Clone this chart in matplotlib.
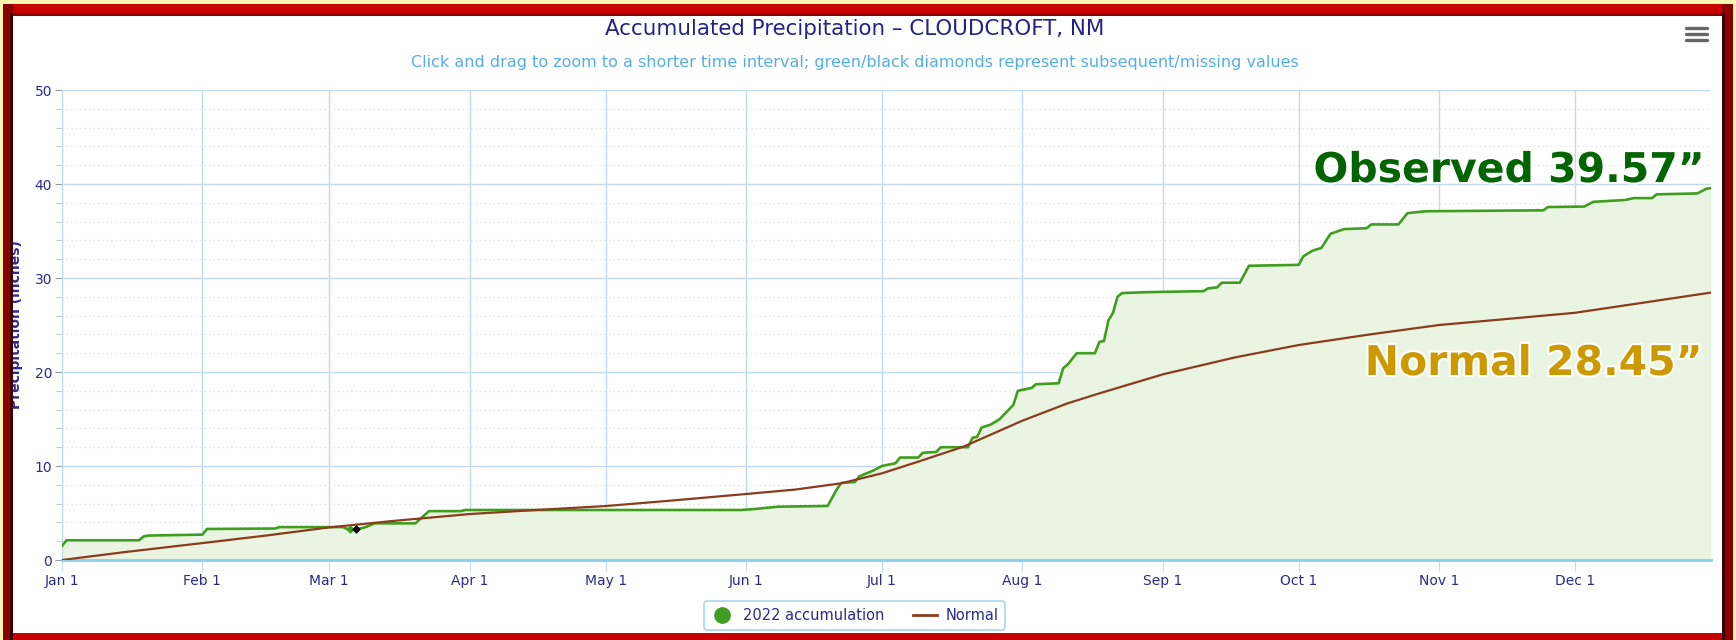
import numpy as np
import pandas as pd
import matplotlib
matplotlib.use("Agg")
import matplotlib.pyplot as plt
import matplotlib.patheffects as pe
from matplotlib.patches import Rectangle
from matplotlib.lines import Line2D

# ---------- DATA ----------

# 2022 accumulation: day of year (0 = Jan 1) and inches
obs_day = [0, 1, 17, 18, 19, 31, 32, 47, 48, 62, 63, 65, 67, 69, 78, 81, 88, 89,
           150, 153, 158, 169, 171, 172, 175, 176, 178, 179, 181, 184, 185, 189,
           190, 193, 194, 200, 201, 202, 203, 205, 207, 208, 210, 211, 214, 215,
           220, 221, 222, 224, 228, 229, 230, 231, 232, 233, 234, 240, 252, 253,
           255, 256, 260, 262, 273, 274, 276, 278, 280, 283, 288, 289, 295, 297,
           301, 327, 328, 336, 338, 345, 347, 351, 352, 361, 363, 364]
obs_inches = [1.5, 2.1, 2.1, 2.5, 2.6, 2.7, 3.3, 3.35, 3.5, 3.5, 3.3, 3.25, 3.5, 3.9, 3.9, 5.2, 5.2, 5.32,
              5.32, 5.43, 5.67, 5.75, 7.5, 8.2, 8.3, 8.9, 9.3, 9.5, 10.0, 10.3, 10.9, 10.9,
              11.4, 11.5, 12.0, 12.0, 13.0, 13.1, 14.1, 14.4, 15.0, 15.5, 16.5, 18.0, 18.3, 18.7,
              18.8, 20.4, 20.8, 22.0, 22.0, 23.2, 23.3, 25.5, 26.3, 28.0, 28.4, 28.5, 28.6, 28.9,
              29.0, 29.5, 29.5, 31.3, 31.4, 32.3, 32.9, 33.2, 34.7, 35.2, 35.3, 35.7, 35.7, 36.9,
              37.1, 37.2, 37.55, 37.6, 38.1, 38.3, 38.5, 38.5, 38.9, 39.0, 39.5, 39.57]

# normal accumulation
normal_day = [0, 14, 31, 45, 59, 73, 90, 104, 120, 134, 151, 162, 172, 181, 189, 199,
              212, 222, 229, 243, 259, 273, 288, 304, 318, 334, 348, 364]
normal_inches = [0.0, 0.85, 1.8, 2.6, 3.47, 4.15, 4.89, 5.3, 5.74, 6.3, 7.02, 7.5, 8.16, 9.22,
                 10.46, 12.06, 14.82, 16.67, 17.73, 19.75, 21.56, 22.87, 23.95, 25.0, 25.6,
                 26.3, 27.3, 28.45]

# diamonds: subsequent (green) / missing (black) values
subseq_day = [63.5]
subseq_inches = [3.3]
missing_day = [65]
missing_inches = [3.35]

month_labels = ["Jan 1", "Feb 1", "Mar 1", "Apr 1", "May 1", "Jun 1",
                "Jul 1", "Aug 1", "Sep 1", "Oct 1", "Nov 1", "Dec 1"]
y_ticks = [0, 10, 20, 30, 40, 50]

TITLE = "Accumulated Precipitation \u2013 CLOUDCROFT, NM"
SUBTITLE = ("Click and drag to zoom to a shorter time interval; "
            "green/black diamonds represent subsequent/missing values")

# ---------- STYLE ----------
W, H = 1736, 640
GREEN = "#3f9e1e"
FILL = "#e9f4e2"
BROWN = "#8c3b1c"
NAVY = "#2b2a8c"
GRID = "#c3d9ec"

start = pd.Timestamp("2022-01-01")


def to_dates(days):
    return start + pd.to_timedelta(days, unit="D")


def px_rect(fig, x0, y0, x1, y1, color, z=10):
    fig.add_artist(Rectangle((x0 / W, 1 - y1 / H), (x1 - x0) / W, (y1 - y0) / H,
                             transform=fig.transFigure, facecolor=color,
                             edgecolor="none", zorder=z))


fig = plt.figure(figsize=(W / 100, H / 100), dpi=100, facecolor="white")
ax = fig.add_axes([62 / W, 80 / H, (1711 - 62) / W, 470 / H])

obs_dates = to_dates(obs_day)
ax.fill_between(obs_dates, obs_inches, 0, color=FILL, lw=0, zorder=1)
ax.plot(obs_dates, obs_inches, color=GREEN, lw=1.9, zorder=3)
ax.plot(to_dates(normal_day), normal_inches, color=BROWN, lw=1.6, zorder=4)
ax.plot(to_dates(subseq_day), subseq_inches, "D", color=GREEN, ms=3.5, zorder=5)
ax.plot(to_dates(missing_day), missing_inches, "D", color="black", ms=3.5, zorder=5)

months = pd.date_range("2022-01-01", periods=12, freq="MS")
ax.set_xlim(start, start + pd.Timedelta(days=364))
ax.set_xticks(months)
ax.set_xticklabels(month_labels)
ax.set_ylim(0, 50)
ax.set_yticks(y_ticks)
ax.set_yticks(range(0, 51, 2), minor=True)

ax.set_axisbelow(True)
ax.grid(axis="y", which="minor", color="#dcdcdc", ls=(0, (1, 3)), lw=0.8)
ax.grid(axis="y", which="major", color=GRID, lw=1)
ax.grid(axis="x", which="major", color=GRID, lw=1)

for s in ["top", "right"]:
    ax.spines[s].set_visible(False)
ax.spines["left"].set_color(GRID)
ax.spines["bottom"].set_color("#8ccdf0")
ax.spines["bottom"].set_linewidth(2)

ax.tick_params(axis="y", which="major", length=5, color="#9a9a9a", labelcolor=NAVY,
               labelsize=10, pad=2)
ax.tick_params(axis="y", which="minor", length=4, color="#c0c0c0")
ax.tick_params(axis="x", length=8, color=GRID, labelcolor=NAVY, labelsize=10, pad=2)

# titles
fig.text(855 / W, 1 - 29 / H, TITLE, ha="center", va="center", fontsize=15.4, color="#22228a")
fig.text(855 / W, 1 - 63 / H, SUBTITLE, ha="center", va="center", fontsize=11.5, color="#55aee8")
fig.text(16 / W, 1 - 325 / H, "Precipitation (inches)", rotation=90, ha="center", va="center",
         fontsize=10, color=NAVY, fontweight="bold", zorder=5)

# big labels
glow = [pe.withStroke(linewidth=3, foreground="white")]
fig.text(1705 / W, 1 - 182 / H, "Observed 39.57\u201d", ha="right", va="baseline",
         fontsize=29.5, fontweight="bold", color="#006400", path_effects=glow, zorder=6)
fig.text(1703 / W, 1 - 375 / H, "Normal 28.45\u201d", ha="right", va="baseline",
         fontsize=29.5, fontweight="bold", color="#cc9900", path_effects=glow, zorder=6)

# legend
handles = [Line2D([], [], marker="o", ls="none", color=GREEN, markersize=11),
           Line2D([], [], color=BROWN, lw=2)]
leg = fig.legend(handles, ["2022 accumulation", "Normal"], loc="center",
                 bbox_to_anchor=(854.5 / W, 1 - 615.5 / H), ncol=2, frameon=True,
                 fancybox=True, edgecolor="#8fcdf0", fontsize=10.5, handlelength=1.6,
                 columnspacing=2.0, handletextpad=0.6, borderpad=0.45)
leg.get_frame().set_linewidth(1.2)
for t in leg.get_texts():
    t.set_color(NAVY)

# menu icon
for y in [28, 34, 40]:
    fig.add_artist(Line2D([1686 / W, 1707 / W], [1 - y / H] * 2, transform=fig.transFigure,
                          color="#666666", lw=2.4, solid_capstyle="round"))

# frame
px_rect(fig, 0, 0, W, 4, "#fff4b0")
px_rect(fig, 0, 0, 3, H, "#fff4b0")
px_rect(fig, 1733, 0, W, H, "#fff4b0")
px_rect(fig, 3, 4, 1733, 16, "#c80000")
px_rect(fig, 3, 13, 1733, 16, "#8a0000")
px_rect(fig, 3, 633, 1733, H, "#c80000")
px_rect(fig, 3, 4, 13, H, "#8b0000")
px_rect(fig, 10, 13, 13, H, "#3a0000")
px_rect(fig, 1722, 4, 1733, H, "#8b0000")
px_rect(fig, 1722, 13, 1725, H, "#3a0000")

fig.savefig("out.png", dpi=100)
print("Saved: out.png")
